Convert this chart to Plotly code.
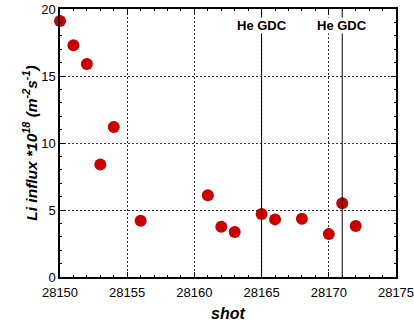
import plotly.graph_objects as go

# Li influx per shot
shots = [28150, 28151, 28152, 28153, 28154, 28156, 28161, 28162, 28163,
         28165, 28166, 28168, 28170, 28171, 28172]
li_influx = [19.1, 17.3, 15.9, 8.4, 11.2, 4.2, 6.1, 3.75, 3.35,
             4.7, 4.3, 4.35, 3.2, 5.5, 3.8]

# He glow discharge cleaning events
gdc_shots = [28165, 28171]
gdc_label = "He GDC"

x_ticks = [28150, 28155, 28160, 28165, 28170, 28175]
y_ticks = [0, 5, 10, 15, 20]

fig = go.Figure()
fig.add_trace(go.Scatter(
    x=shots, y=li_influx, mode="markers",
    marker=dict(color="#c80000", size=12, line=dict(width=0)),
    showlegend=False, cliponaxis=False,
))

for s in gdc_shots:
    fig.add_shape(type="line", x0=s, x1=s, y0=0, y1=1, yref="paper",
                  line=dict(color="black", width=1))
    fig.add_annotation(x=s, y=0.94, yref="paper", yanchor="middle",
                       text=f"<b>{gdc_label}</b>",
                       showarrow=False, bgcolor="white", borderpad=0,
                       font=dict(size=13, color="black", family="Liberation Sans"))

axis_common = dict(
    showline=True, linecolor="black", linewidth=1.5, mirror="allticks",
    ticks="inside", ticklen=5, tickcolor="black",
    showgrid=True, gridcolor="#333", griddash="2px,2px", gridwidth=1,
    zeroline=False, automargin=False,
    tickfont=dict(size=13, color="black", family="Liberation Sans"),
)

fig.update_xaxes(
    range=[28150, 28175], tickvals=x_ticks, tickformat="d",
    ticklabeloverflow="allow", ticklabelstandoff=3,
    minor=dict(dtick=1, ticks="inside", ticklen=2, tickcolor="black", showgrid=False),
    title=dict(text="<b><i>shot</i></b>", standoff=8,
               font=dict(size=16, color="black", family="Liberation Sans")),
    **axis_common,
)
fig.update_yaxes(
    range=[0, 20], tickvals=y_ticks,
    minor=dict(dtick=1, ticks="inside", ticklen=2, tickcolor="black", showgrid=False),
    title=dict(text="<b><i>Li influx *10<sup>18</sup> (m<sup>-2</sup>s<sup>-1</sup>)</i></b>",
               standoff=0,
               font=dict(size=15.5, color="black", family="Liberation Sans")),
    **axis_common,
)

fig.update_layout(
    width=414, height=323,
    margin=dict(l=60, r=18, t=9, b=46),
    plot_bgcolor="white", paper_bgcolor="white",
)

fig.write_html("out.html")
